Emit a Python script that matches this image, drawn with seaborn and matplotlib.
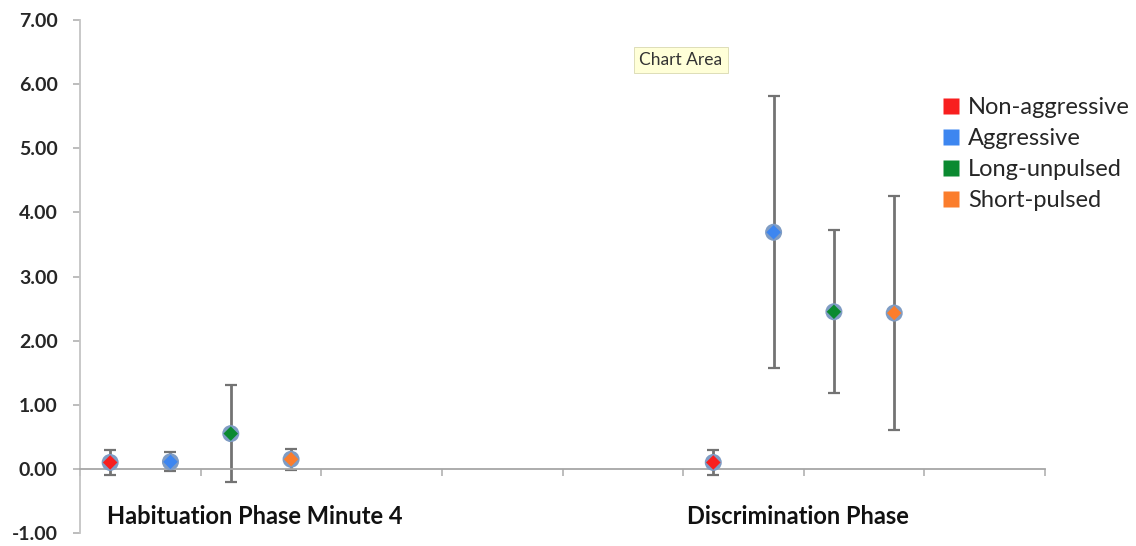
import matplotlib
matplotlib.use("Agg")
import matplotlib.pyplot as plt
import seaborn as sns
import pandas as pd
from matplotlib.lines import Line2D

# values
groups = ["Habituation Phase Minute 4", "Discrimination Phase"]
series = ["Non-aggressive", "Aggressive", "Long-unpulsed", "Short-pulsed"]
colors = ["#f81f1f", "#3d86f0", "#0a8a30", "#fb7d2c"]

habituation_mean = [0.10, 0.11, 0.55, 0.15]
habituation_err = [0.19, 0.15, 0.76, 0.16]
discrimination_mean = [0.10, 3.69, 2.45, 2.43]
discrimination_err = [0.19, 2.12, 1.27, 1.83]

# x positions of the points (axis runs 0..8, one tick per unit)
habituation_x = [0.25, 0.75, 1.25, 1.75]
discrimination_x = [5.25, 5.75, 6.25, 6.75]
group_label_x = [1.45, 5.95]

df = pd.DataFrame({
    "x": habituation_x + discrimination_x,
    "mean": habituation_mean + discrimination_mean,
    "err": habituation_err + discrimination_err,
    "series": series * 2,
    "group": [groups[0]] * 4 + [groups[1]] * 4,
})

sns.set_style("white")
plt.rcParams["font.family"] = ["Lato", "DejaVu Sans"]

fig = plt.figure(figsize=(11.36, 5.46), dpi=100)
ax = fig.add_axes([80 / 1136, 13 / 546, 965 / 1136, 513 / 546])

# error bars
ax.errorbar(df["x"], df["mean"], yerr=df["err"], fmt="none",
            ecolor="#737373", elinewidth=2.0, capsize=4, capthick=1.6,
            zorder=2)

# grey-blue halo behind each marker, then the coloured diamond
sns.scatterplot(data=df, x="x", y="mean", ax=ax, color="#7f9cc4",
                marker="o", s=150, edgecolor="none", legend=False, zorder=3)
sns.scatterplot(data=df, x="x", y="mean", hue="series", palette=colors,
                hue_order=series, ax=ax, marker="D", s=55,
                edgecolor="none", legend=False, zorder=4)

ax.set_xlim(0, 8)
ax.set_ylim(-1, 7)
ax.set_yticks(range(-1, 8))
ax.set_yticklabels(["{:.2f}".format(v) for v in range(-1, 8)],
                   fontsize=14, fontweight="bold")
ax.set_xticks(range(0, 9))
ax.set_xticklabels([])
ax.set_xlabel("")
ax.set_ylabel("")

for side in ["top", "right"]:
    ax.spines[side].set_visible(False)
ax.spines["bottom"].set_position(("data", 0))
ax.spines["bottom"].set_color("#a6a6a6")
ax.spines["left"].set_color("#c4c4c4")
ax.spines["bottom"].set_linewidth(1.3)
ax.spines["left"].set_linewidth(1.3)
ax.tick_params(axis="y", left=True, direction="out", length=5, width=1.3,
               color="#b8b8b8", pad=11)
ax.tick_params(axis="x", bottom=True, direction="out", length=5, width=1.3,
               color="#b8b8b8")

for label, gx in zip(groups, group_label_x):
    ax.text(gx, -0.75, label, ha="center", va="center", fontsize=17,
            fontweight="bold", color="#111111")

handles = [Line2D([], [], marker="s", linestyle="none", markersize=11,
                  markerfacecolor=c, markeredgecolor="none") for c in colors]
ax.legend(handles, series, loc="upper left", bbox_to_anchor=(0.882, 0.868),
          frameon=False, fontsize=17, handletextpad=0.25, labelspacing=0.42,
          handlelength=0.9, borderaxespad=0)

# the tooltip captured in the screenshot
fig.text(681 / 1136, 1 - 60 / 546, "Chart Area", ha="center", va="center",
         fontsize=12.5, color="#333333",
         bbox=dict(boxstyle="square,pad=0.3", facecolor="#ffffd8",
                   edgecolor="#d8d8b0", linewidth=0.6))

plt.savefig("out.png", dpi=100)
